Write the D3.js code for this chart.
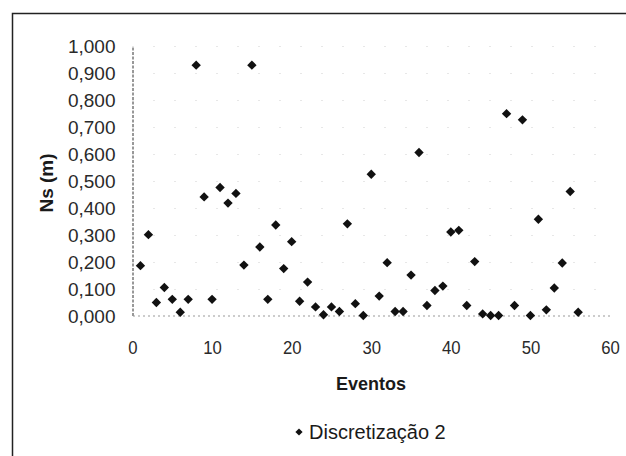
<!DOCTYPE html>
<html>
<head>
<meta charset="utf-8">
<script src="https://cdn.jsdelivr.net/npm/d3@7/dist/d3.min.js"></script>
<style>
  body { margin: 0; background: #fff; }
  svg { display: block; }
  text { font-family: "Liberation Sans", Arial, sans-serif; fill: #1a1a1a; }
</style>
</head>
<body>
<svg id="chart" width="626" height="456"></svg>
<script>
// Event number (x) and Ns value in metres (y)
const eventos = [1, 2, 3, 4, 5, 6, 7, 8, 9, 10, 11, 12, 13, 14, 15, 16, 17, 18, 19, 20,
  21, 22, 23, 24, 25, 26, 27, 28, 29, 30, 31, 32, 33, 34, 35, 36, 37, 38, 39, 40,
  41, 42, 43, 44, 45, 46, 47, 48, 49, 50, 51, 52, 53, 54, 55, 56];
const ns = [0.185, 0.300, 0.048, 0.104, 0.060, 0.012, 0.060, 0.929, 0.440, 0.060,
  0.475, 0.417, 0.453, 0.187, 0.929, 0.254, 0.060, 0.336, 0.174, 0.274,
  0.053, 0.124, 0.032, 0.003, 0.032, 0.015, 0.340, 0.044, 0.000, 0.524,
  0.072, 0.196, 0.015, 0.015, 0.150, 0.605, 0.037, 0.093, 0.109, 0.310,
  0.316, 0.037, 0.200, 0.006, 0.000, 0.000, 0.749, 0.037, 0.726, 0.000,
  0.357, 0.021, 0.102, 0.195, 0.460, 0.012];

const yTicks = [0, 0.1, 0.2, 0.3, 0.4, 0.5, 0.6, 0.7, 0.8, 0.9, 1.0];
const yTickLabels = ["0,000", "0,100", "0,200", "0,300", "0,400", "0,500",
  "0,600", "0,700", "0,800", "0,900", "1,000"];
const xTicks = [0, 10, 20, 30, 40, 50, 60];
const xTickLabels = ["0", "10", "20", "30", "40", "50", "60"];

const seriesName = "Discretização 2";
const xTitle = "Eventos";
const yTitle = "Ns (m)";

const svg = d3.select("#chart");

// Outer chart frame (right and bottom edges fall outside the view)
svg.append("rect")
  .attr("x", 12.5).attr("y", 13.5)
  .attr("width", 640).attr("height", 470)
  .attr("fill", "none").attr("stroke", "#222").attr("stroke-width", 1.5);

const x = d3.scaleLinear().domain([0, 60]).range([132.5, 610]);
const y = d3.scaleLinear().domain([0, 1]).range([315.5, 46]);

// Faint dotted gridlines
svg.append("g")
  .selectAll("line")
  .data(yTicks.slice(1))
  .join("line")
  .attr("x1", x(0)).attr("x2", x(60))
  .attr("y1", d => Math.round(y(d)) + 0.5).attr("y2", d => Math.round(y(d)) + 0.5)
  .attr("stroke", "#cfcfcf").attr("stroke-width", 1)
  .attr("stroke-dasharray", "1,20");

// Y axis
const fmtY = d => yTickLabels[yTicks.indexOf(d)];
const yAxis = svg.append("g")
  .attr("transform", `translate(${x(0)},0)`)
  .call(d3.axisLeft(y).tickValues(yTicks).tickFormat(fmtY).tickSize(0).tickPadding(17));
yAxis.select(".domain")
  .attr("stroke", "#333").attr("stroke-dasharray", "3,1.5");
yAxis.selectAll(".tick text")
  .attr("dy", "0.36em")
  .style("font-size", "19px").style("fill", "#2a2a2a");

// X axis
const fmtX = d => xTickLabels[xTicks.indexOf(d)];
const xAxis = svg.append("g")
  .attr("transform", `translate(0,${y(0)})`)
  .call(d3.axisBottom(x).tickValues(xTicks).tickFormat(fmtX).tickSize(0).tickPadding(0));
xAxis.select(".domain")
  .attr("stroke", "#999").attr("stroke-dasharray", "2,3");
xAxis.selectAll(".tick text")
  .attr("y", 0).attr("dy", 0)
  .attr("transform", "translate(0,38.5) scale(0.88,1)")
  .style("font-size", "19px").style("fill", "#2a2a2a");

// Axis titles
svg.append("text")
  .attr("x", 371).attr("y", 390)
  .attr("text-anchor", "middle")
  .style("font-size", "18px").style("font-weight", "bold")
  .text(xTitle);

svg.append("text")
  .attr("transform", "translate(53,183) rotate(-90)")
  .attr("text-anchor", "middle")
  .style("font-size", "19px").style("font-weight", "bold")
  .text(yTitle);

// Diamond markers
const diamond = d3.symbol().type(d3.symbolSquare).size(44);
svg.append("g")
  .selectAll("path")
  .data(eventos.map((e, i) => ({ e, v: ns[i] })))
  .join("path")
  .attr("d", diamond)
  .attr("transform", d => `translate(${x(d.e)},${y(d.v)}) rotate(45)`)
  .attr("fill", "#111");

// Legend
const legend = svg.append("g").attr("transform", "translate(299,432)");
legend.append("path")
  .attr("d", d3.symbol().type(d3.symbolSquare).size(26))
  .attr("transform", "rotate(45)")
  .attr("fill", "#111");
legend.append("text")
  .attr("x", 10).attr("dy", "0.36em")
  .style("font-size", "20px")
  .text(seriesName);
</script>
</body>
</html>
